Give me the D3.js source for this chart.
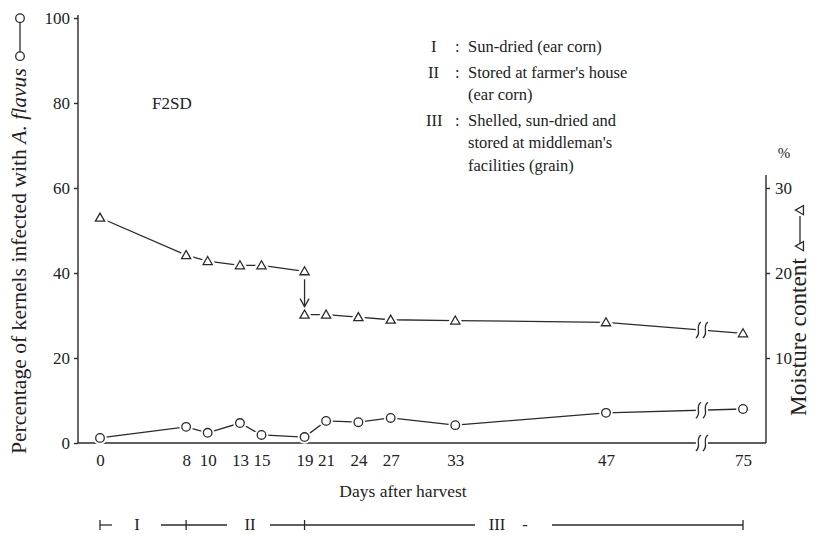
<!DOCTYPE html>
<html>
<head>
<meta charset="utf-8">
<script src="https://cdn.jsdelivr.net/npm/d3@7"></script>
<style>
  html, body { margin: 0; padding: 0; background: #fff; }
  svg text { font-family: "Liberation Serif", "Times New Roman", Times, Tinos, "DejaVu Serif", "Noto Serif", FreeSerif, serif; fill: #222; }
</style>
</head>
<body>
<svg id="chart" width="820" height="537"></svg>
<script>
// Sampling days after harvest
const days = [0, 8, 10, 13, 15, 19, 21, 24, 27, 33, 47, 75];
// Percentage of kernels infected with A. flavus
const infected = [1.2, 3.8, 2.4, 4.7, 1.9, 1.4, 5.2, 4.9, 5.9, 4.2, 7.1, 8.0];
// Moisture content (%) of ear corn, before shelling
const moistureEarDays = [0, 8, 10, 13, 15, 19];
const moistureEar = [26.5, 22.1, 21.4, 20.9, 20.9, 20.2];
// Moisture content (%) of grain, after shelling and sun-drying
const moistureGrainDays = [19, 21, 24, 27, 33, 47, 75];
const moistureGrain = [15.1, 15.1, 14.8, 14.5, 14.4, 14.2, 12.9];
// Axis ticks
const leftTicks = [0, 20, 40, 60, 80, 100];
const rightTicks = [10, 20, 30];
// Handling stages
const legendRows = [
  ["I", ":", ["Sun-dried (ear corn)"]],
  ["II", ":", ["Stored at farmer's house", "(ear corn)"]],
  ["III", ":", ["Shelled, sun-dried and", "stored at middleman's", "facilities (grain)"]]
];
const stageBounds = [0, 8, 19, 75];

const serif = '"Liberation Serif", "Times New Roman", Times, Tinos, "DejaVu Serif", "Noto Serif", FreeSerif, serif';
const svg = d3.select("#chart").attr("font-family", serif);
const ink = "#2a2a2a";

// Days 47 -> 75 are compressed behind an axis break
const x = d3.scaleLinear().domain([0, 47, 75]).range([100, 606, 743]);
const yL = d3.scaleLinear().domain([0, 100]).range([443, 18]);
const yR = d3.scaleLinear().domain([0, 30]).range([443, 188]);
const breakX = x(47) + (x(75) - x(47)) * 0.7;

// Left axis
const gL = svg.append("g").attr("transform", "translate(78,0)")
  .call(d3.axisLeft(yL).tickValues(leftTicks).tickSize(4).tickSizeOuter(0).tickPadding(4));
gL.select(".domain").attr("d", `M0,${yL(100) - 3}V${yL(0)}`);

// Right axis
const gR = svg.append("g").attr("transform", "translate(766,0)")
  .call(d3.axisRight(yR).tickValues(rightTicks).tickSize(4).tickSizeOuter(0).tickPadding(5));
gR.select(".domain").attr("d", `M0,175V${yR(0)}`);

// Bottom axis
const gB = svg.append("g").attr("transform", `translate(0,${yL(0)})`)
  .call(d3.axisBottom(x).tickValues(days).tickSize(0).tickPadding(11).tickFormat(d3.format("d")));
gB.select(".domain").attr("d", "M78,0H766");

[gL, gR, gB].forEach(g => {
  g.attr("font-family", serif);
  g.selectAll(".domain, line").attr("stroke", ink).attr("stroke-width", 1.4);
  g.selectAll("text").attr("font-size", 17).attr("fill", ink);
});

// Axis titles, sized to their printed lengths
const leftTitle = svg.append("text")
  .attr("transform", `translate(26,454) rotate(-90)`)
  .attr("font-size", 18.5);
leftTitle.append("tspan").text("Percentage of kernels infected with ");
leftTitle.append("tspan").attr("font-style", "italic").text("A. flavus");
leftTitle.attr("font-size", 18.5 * 386 / leftTitle.node().getComputedTextLength());
const ltLen = leftTitle.node().getComputedTextLength();

const rightTitle = svg.append("text")
  .attr("transform", `translate(806,416) rotate(-90)`)
  .attr("font-size", 18.5)
  .text("Moisture content");
rightTitle.attr("font-size", 18.5 * 158 / rightTitle.node().getComputedTextLength());
const rtLen = rightTitle.node().getComputedTextLength();

svg.append("text").attr("x", 784).attr("y", 158).attr("font-size", 15)
  .attr("text-anchor", "middle").text("%");

// Marker shapes
function circleMark(g, cx, cy) {
  g.append("circle").attr("cx", cx).attr("cy", cy).attr("r", 4.3)
    .attr("fill", "#fff").attr("stroke", ink).attr("stroke-width", 1.3);
}
function triPath(cx, cy) {
  const s = 4.6;
  return `M${cx},${cy - s}L${cx + s},${cy + s * 0.75}L${cx - s},${cy + s * 0.75}Z`;
}
function triMark(g, cx, cy) {
  g.append("path").attr("d", triPath(cx, cy))
    .attr("fill", "#fff").attr("stroke", ink).attr("stroke-width", 1.3);
}

// Series keys drawn after each axis title
{
  const kx = 20, y0 = 454 - ltLen - 12;
  const key = svg.append("g");
  key.append("line").attr("x1", kx).attr("x2", kx).attr("y1", y0).attr("y2", y0 - 34)
    .attr("stroke", ink).attr("stroke-width", 1.3);
  circleMark(key, kx, y0);
  circleMark(key, kx, y0 - 38);
}
{
  const kx = 800, y0 = 416 - rtLen - 12;
  const key = svg.append("g");
  key.append("line").attr("x1", kx).attr("x2", kx).attr("y1", y0).attr("y2", y0 - 30)
    .attr("stroke", ink).attr("stroke-width", 1.3);
  [0, 36].forEach(dy => {
    key.append("path").attr("d", triPath(0, 0)).attr("transform", `translate(${kx},${y0 - dy}) rotate(-90)`)
      .attr("fill", "#fff").attr("stroke", ink).attr("stroke-width", 1.3);
  });
}

// Sample label
svg.append("text").attr("x", 152).attr("y", 109).attr("font-size", 17).text("F2SD");

// Stage legend
{
  const lg = svg.append("g").attr("font-size", 16.5);
  let yy = 52;
  legendRows.forEach(([num, colon, lines]) => {
    lg.append("text").attr("x", num === "III" ? 426 : (num === "II" ? 428 : 431)).attr("y", yy).text(num);
    lg.append("text").attr("x", 455).attr("y", yy).text(colon);
    lines.forEach((ln, i) => {
      lg.append("text").attr("x", 468).attr("y", yy + i * 22.5).text(ln);
    });
    yy += lines.length * 22.5 + 3;
  });
}

// Lines
const lineGen = d3.line();
function drawSeries(xs, ys, yScale) {
  const pts = xs.map((d, i) => [x(d), yScale(ys[i])]);
  svg.append("path").attr("d", lineGen(pts)).attr("fill", "none")
    .attr("stroke", ink).attr("stroke-width", 1.3);
  return pts;
}
const infPts = drawSeries(days, infected, yL);
const earPts = drawSeries(moistureEarDays, moistureEar, yR);
const grainPts = drawSeries(moistureGrainDays, moistureGrain, yR);

// Axis-break symbols on each line and on the day axis
function breakMark(y) {
  const g = svg.append("g");
  g.append("rect").attr("x", breakX - 6).attr("y", y - 3).attr("width", 12).attr("height", 6).attr("fill", "#fff");
  [-3.5, 3.5].forEach(dx => {
    const cx = breakX + dx;
    g.append("path")
      .attr("d", `M${cx - 2.5},${y + 8}C${cx + 4},${y + 3} ${cx - 4},${y - 3} ${cx + 2.5},${y - 8}`)
      .attr("fill", "none").attr("stroke", ink).attr("stroke-width", 1.3);
  });
}
function lineYAt(pts, px) {
  for (let i = 1; i < pts.length; i++) {
    if (pts[i][0] >= px) {
      const t = (px - pts[i - 1][0]) / (pts[i][0] - pts[i - 1][0]);
      return pts[i - 1][1] + t * (pts[i][1] - pts[i - 1][1]);
    }
  }
  return pts[pts.length - 1][1];
}
breakMark(lineYAt(grainPts, breakX));
breakMark(lineYAt(infPts, breakX));
breakMark(yL(0));

// Markers with a white halo so lines stop short of them
function haloCircles(pts) {
  pts.forEach(([cx, cy]) => {
    svg.append("circle").attr("cx", cx).attr("cy", cy).attr("r", 4.3)
      .attr("fill", "#fff").attr("stroke", "#fff").attr("stroke-width", 5);
    circleMark(svg, cx, cy);
  });
}
function haloTris(pts) {
  pts.forEach(([cx, cy]) => {
    svg.append("path").attr("d", triPath(cx, cy))
      .attr("fill", "#fff").attr("stroke", "#fff").attr("stroke-width", 6).attr("stroke-linejoin", "round");
    triMark(svg, cx, cy);
  });
}
haloCircles(infPts);
haloTris(earPts);
haloTris(grainPts);

// Shelling step: arrow from ear-corn to grain moisture on day 19
{
  const ax = x(19);
  const yTop = yR(moistureEar[moistureEar.length - 1]) + 8;
  const yBot = yR(moistureGrain[0]) - 8;
  svg.append("line").attr("x1", ax).attr("x2", ax).attr("y1", yTop).attr("y2", yBot)
    .attr("stroke", ink).attr("stroke-width", 1.3);
  svg.append("path").attr("d", `M${ax - 4.5},${yBot - 8}L${ax},${yBot}L${ax + 4.5},${yBot - 8}`)
    .attr("fill", "none").attr("stroke", ink).attr("stroke-width", 1.3);
}

// X-axis title
svg.append("text").attr("x", 403).attr("y", 497).attr("font-size", 17.5)
  .attr("text-anchor", "middle").text("Days after harvest");

// Handling-stage bar
{
  const yb = 525;
  const g = svg.append("g").attr("stroke", ink).attr("stroke-width", 1.3);
  const segs = [[x(stageBounds[0]), 112], [161, 227], [270, 475], [552, x(stageBounds[3])]];
  segs.forEach(([a, b]) => g.append("line").attr("x1", a).attr("x2", b).attr("y1", yb).attr("y2", yb));
  stageBounds.forEach(d => {
    g.append("line").attr("x1", x(d)).attr("x2", x(d)).attr("y1", yb - 5).attr("y2", yb + 5);
  });
  const labels = [["I", 137], ["II", 250], ["III", 497], ["-", 525]];
  labels.forEach(([t, lx]) => {
    svg.append("text").attr("x", lx).attr("y", yb + 5).attr("font-size", 16.5)
      .attr("text-anchor", "middle").text(t);
  });
}
</script>
</body>
</html>
